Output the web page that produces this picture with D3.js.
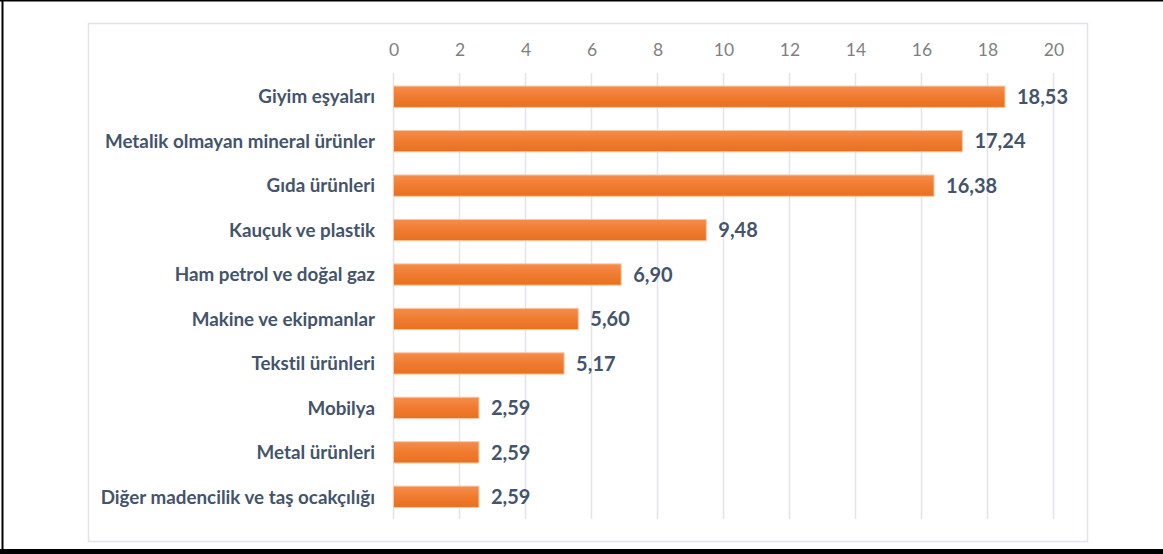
<!DOCTYPE html>
<html><head><meta charset="utf-8">
<script src="https://cdn.jsdelivr.net/npm/d3@7/dist/d3.min.js"></script>
<style>
html,body{margin:0;padding:0;background:#fff;}
svg{display:block;}
text{font-variant-ligatures:none;font-feature-settings:"liga" 0;}
</style></head>
<body>
<svg id="c" width="1163" height="554"></svg>
<script>
const categories = ["Giyim eşyaları","Metalik olmayan mineral ürünler","Gıda ürünleri","Kauçuk ve plastik","Ham petrol ve doğal gaz","Makine ve ekipmanlar","Tekstil ürünleri","Mobilya","Metal ürünleri","Diğer madencilik ve taş ocakçılığı"];
const values = [18.53,17.24,16.38,9.48,6.90,5.60,5.17,2.59,2.59,2.59];
const valueLabels = ["18,53","17,24","16,38","9,48","6,90","5,60","5,17","2,59","2,59","2,59"];
const ticks = [0,2,4,6,8,10,12,14,16,18,20];

const svg = d3.select("#c");
svg.append("rect").attr("x",0).attr("y",0).attr("width",1163).attr("height",554).attr("fill","#fff");
svg.append("line").attr("x1",0).attr("x2",1163).attr("y1",0.5).attr("y2",0.5).attr("stroke","#000").attr("stroke-width",2);
svg.append("line").attr("x1",2.5).attr("x2",2.5).attr("y1",0).attr("y2",554).attr("stroke","#000").attr("stroke-width",2);
svg.append("rect").attr("x",0).attr("y",549).attr("width",1163).attr("height",5).attr("fill","#000");
svg.append("rect").attr("x",88.5).attr("y",23.5).attr("width",999).attr("height",518).attr("fill","#fff").attr("stroke","#e3e4ea").attr("stroke-width",1.5);

const defs = svg.append("defs");
const g = defs.append("linearGradient").attr("id","bg").attr("x1",0).attr("x2",0).attr("y1",0).attr("y2",1);
g.append("stop").attr("offset","0%").attr("stop-color","#f58d4c");
g.append("stop").attr("offset","50%").attr("stop-color","#f07b30");
g.append("stop").attr("offset","100%").attr("stop-color","#e8701f");

const x = d3.scaleLinear().domain([0,20]).range([393.5,1053.5]);
const y = d3.scaleBand().domain(categories).range([74.5,519]).paddingInner(0.52).paddingOuter(0.26);

svg.append("g").selectAll("line").data(ticks).join("line")
  .attr("x1",d=>x(d)).attr("x2",d=>x(d)).attr("y1",73).attr("y2",519)
  .attr("stroke","#e4e4ea").attr("stroke-width",1.5);

const ax = svg.append("g").attr("transform","translate(0,73)")
  .call(d3.axisTop(x).tickValues(ticks).tickSize(0).tickPadding(17).tickFormat(d=>String(d)));
ax.select(".domain").remove();
ax.selectAll("text").attr("font-family","Lato, 'Open Sans', sans-serif").attr("font-size","17.5px").attr("fill","#7f7f7f");

svg.append("g").selectAll("rect").data(values).join("rect")
  .attr("x",x(0)).attr("y",(d,i)=>y(categories[i]))
  .attr("width",d=>x(d)-x(0)).attr("height",y.bandwidth())
  .attr("fill","url(#bg)").attr("stroke","#f9c9a6").attr("stroke-width",1);

svg.append("g").selectAll("text").data(values).join("text")
  .attr("x",d=>x(d)+12).attr("y",(d,i)=>y(categories[i])+y.bandwidth()/2)
  .attr("dy","0.36em")
  .attr("font-family","Lato, 'Open Sans', sans-serif").attr("font-weight","bold").attr("font-size","20px")
  .attr("fill","#44546a").text((d,i)=>valueLabels[i]);

svg.append("g").selectAll("text").data(categories).join("text")
  .attr("x",375).attr("y",d=>y(d)+y.bandwidth()/2).attr("dy","0.36em")
  .attr("text-anchor","end")
  .attr("font-family","Lato, 'Open Sans', sans-serif").attr("font-weight","bold").attr("font-size","18.8px")
  .attr("fill","#44546a").text(d=>d);
</script>
</body></html>
